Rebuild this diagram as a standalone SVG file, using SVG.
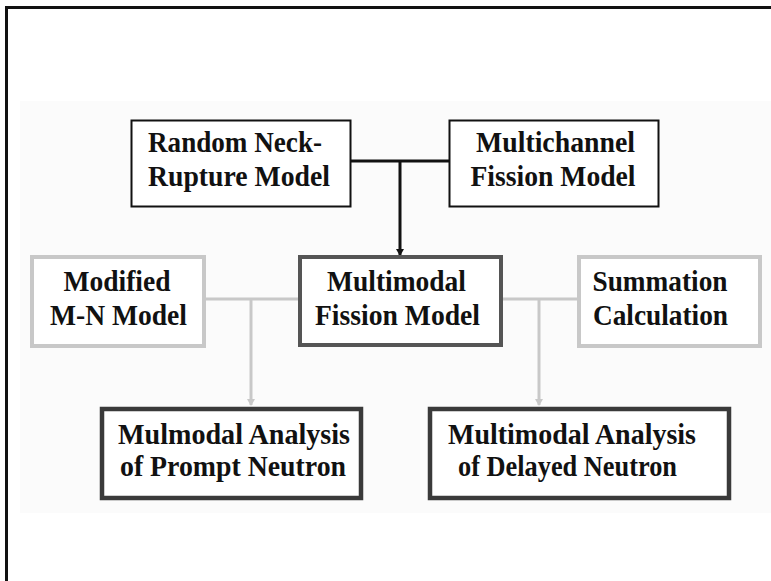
<svg xmlns="http://www.w3.org/2000/svg" width="771" height="581" viewBox="0 0 771 581">
<style>
text{font-family:"Liberation Serif","Times New Roman",serif;font-weight:bold;font-size:30px;fill:#111;text-anchor:middle}
.b1{fill:#fff;stroke:#111;stroke-width:2}
.b2{fill:#fff;stroke:#555;stroke-width:4}
.b3{fill:#fff;stroke:#c8c8c8;stroke-width:4}
.b4{fill:#fff;stroke:#3a3a3a;stroke-width:4.5}
.cb{fill:none;stroke:#111;stroke-width:3}
.cg{fill:none;stroke:#c8c8c8;stroke-width:3}
</style>
<defs>
<marker id="ab" markerWidth="8" markerHeight="8" refX="6" refY="4" orient="auto" markerUnits="userSpaceOnUse"><path d="M0,0L7,4L0,8z" fill="#111"/></marker>
<marker id="ag" markerWidth="8" markerHeight="8" refX="6" refY="4" orient="auto" markerUnits="userSpaceOnUse"><path d="M0,0L7,4L0,8z" fill="#c8c8c8"/></marker>
</defs>
<rect width="771" height="581" fill="#fff"/>
<rect x="20" y="101" width="751" height="412" fill="#fbfbfb"/>
<path d="M6.5,581V7.5H771" fill="none" stroke="#111" stroke-width="3"/>
<g id="connectors">
<path class="cb" d="M350,161H449"/>
<path class="cb" d="M400,161V255" marker-end="url(#ab)"/>
<path class="cg" d="M204,299H299"/>
<path class="cg" d="M251,299V405" marker-end="url(#ag)"/>
<path class="cg" d="M501,299H577"/>
<path class="cg" d="M539,299V405" marker-end="url(#ag)"/>
</g>
<g id="random">
<rect class="b1" x="131.5" y="120.5" width="219" height="86"/>
<text x="235" y="152" textLength="174" lengthAdjust="spacingAndGlyphs">Random Neck-</text>
<text x="239" y="186" textLength="182" lengthAdjust="spacingAndGlyphs">Rupture Model</text>
</g>
<g id="multichannel">
<rect class="b1" x="449.5" y="120.5" width="209" height="86"/>
<text x="555.5" y="152" textLength="159" lengthAdjust="spacingAndGlyphs">Multichannel</text>
<text x="553" y="186" textLength="165" lengthAdjust="spacingAndGlyphs">Fission Model</text>
</g>
<g id="multimodal">
<rect class="b2" x="300" y="257" width="201" height="88"/>
<text x="396.5" y="291" textLength="139" lengthAdjust="spacingAndGlyphs">Multimodal</text>
<text x="397.5" y="325" textLength="165" lengthAdjust="spacingAndGlyphs">Fission Model</text>
</g>
<g id="modified">
<rect class="b3" x="32" y="257" width="172" height="89"/>
<text x="117" y="291" textLength="107" lengthAdjust="spacingAndGlyphs">Modified</text>
<text x="118.5" y="325" textLength="137" lengthAdjust="spacingAndGlyphs">M-N Model</text>
</g>
<g id="summation">
<rect class="b3" x="579" y="257" width="181" height="89"/>
<text x="660" y="291" textLength="135" lengthAdjust="spacingAndGlyphs">Summation</text>
<text x="660.5" y="325" textLength="135" lengthAdjust="spacingAndGlyphs">Calculation</text>
</g>
<g id="prompt">
<rect class="b4" x="102" y="409" width="259" height="89"/>
<text x="234" y="444" textLength="232" lengthAdjust="spacingAndGlyphs">Mulmodal Analysis</text>
<text x="233" y="476" textLength="226" lengthAdjust="spacingAndGlyphs">of Prompt Neutron</text>
</g>
<g id="delayed">
<rect class="b4" x="430" y="409" width="299" height="89"/>
<text x="572" y="444" textLength="248" lengthAdjust="spacingAndGlyphs">Multimodal Analysis</text>
<text x="567.5" y="476" textLength="219" lengthAdjust="spacingAndGlyphs">of Delayed Neutron</text>
</g>
</svg>
